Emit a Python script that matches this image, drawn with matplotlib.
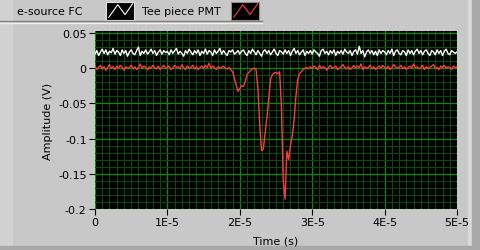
import numpy as np
import matplotlib
matplotlib.use("Agg")
import matplotlib.pyplot as plt
from matplotlib.ticker import MultipleLocator, FixedLocator
from matplotlib.patches import Rectangle

# sample times, 0 .. 50 us in 0.25 us steps
t_start, t_stop, n_pts = 0.0, 5e-5, 201

# e-source FC trace (mV)
fc_mv = [
    20, 25, 18, 23, 27, 21, 26, 19, 24, 22, 28, 20, 25, 23, 18, 26, 21, 25, 17, 23,
    26, 21, 19, 25, 30, 18, 24, 21, 26, 20, 23, 27, 21, 25, 18, 23, 26, 20, 25, 22,
    24, 19, 26, 21, 25, 28, 20, 24, 21, 17, 25, 21, 27, 23, 19, 25, 21, 26, 18, 24,
    21, 27, 20, 25, 23, 18, 26, 21, 24, 28, 20, 25, 21, 18, 25, 23, 26, 20, 22, 25,
    20, 24, 26, 21, 18, 25, 21, 27, 23, 19, 25, 21, 17, 24, 26, 21, 25, 19, 23, 27,
    21, 18, 25, 23, 20, 26, 21, 25, 18, 24, 28, 21, 25, 19, 23, 26, 18, 24, 21, 25,
    20, 26, 23, 21, 17, 25, 27, 21, 24, 19, 25, 21, 26, 18, 24, 21, 25, 20, 27, 23,
    21, 25, 18, 24, 26, 20, 31, 21, 25, 16, 23, 26, 21, 25, 19, 24, 18, 26, 21, 25,
    23, 19, 25, 21, 27, 18, 24, 26, 21, 19, 25, 23, 18, 26, 21, 25, 19, 24, 27, 21,
    25, 19, 24, 26, 21, 18, 25, 23, 19, 26, 21, 25, 18, 24, 27, 21, 19, 25, 23, 21,
    23,
]

# Tee piece PMT trace (mV)
pmt_mv = [
    3, -2, 1, 4, -1, 2, -3, 1, 5, 0, 2, -2, 3, 0, 4, 1, -3, 2, 0, 1,
    4, -1, 2, -2, 1, 6, 0, 3, 1, -2, 2, 0, 4, 1, -1, 3, -2, 1, 4, 0,
    1, 3, -2, 0, 4, 1, 2, -1, 5, 1, -2, 3, 0, 1, 4, -1, 2, -2, 1, 3,
    0, 4, 1, 7, 0, 3, 1, -2, 2, 0, 1, 3, 0, -1, 1, -2, -5, -14, -24, -33,
    -29, -25, -26, -19, -9, -6, -3, -1, 0, -2, -28, -80, -117, -115, -93, -70, -42, -16, -9, -7,
    -6, -8, -5, -55, -160, -186, -118, -130, -110, -96, -74, -40, -16, -8, -5, -2, 0, 1, -1, 2,
    0, 3, 1, -2, 4, 0, 2, 1, -3, 1, 4, 0, 1, 3, -2, 0, 2, 5, 1, -1,
    2, -2, 1, 4, 0, 3, 1, 6, -2, 2, 0, 1, 4, -1, 2, -2, 1, 3, 0, 4,
    1, -1, 3, -2, 1, 5, 2, 0, 1, 4, -1, 2, -2, 1, 3, 0, 6, 1, 2, -1,
    1, 4, -2, 2, 0, 1, 3, 5, 0, 1, -2, 3, 1, 4, 0, 2, 1, -2, 3, 1,
    2,
]

x_ticks = [0, 1e-5, 2e-5, 3e-5, 4e-5, 5e-5]
x_labels = ["0", "1E-5", "2E-5", "3E-5", "4E-5", "5E-5"]
y_ticks = [-0.2, -0.15, -0.1, -0.05, 0, 0.05]
y_labels = ["-0.2", "-0.15", "-0.1", "-0.05", "0", "0.05"]
series_names = ["e-source FC", "Tee piece PMT"]

t = np.linspace(t_start, t_stop, n_pts)
fc = np.array(fc_mv) / 1000.0
pmt = np.array(pmt_mv) / 1000.0

W, H = 481, 251
bg = "#c8c8c8"
fig = plt.figure(figsize=(W / 100, H / 100), dpi=100, facecolor=bg)

# panel bevels
for x0, y0, w, h, col in [(0, 0, 12, H, "#d2d2d2"), (468, 0, 4, H, "#dadada"),
                          (472, 0, 9, H, "#a8a8a8"), (0, 0, W, 4, "#a8a8a8")]:
    fig.patches.append(Rectangle((x0 / W, y0 / H), w / W, h / H, transform=fig.transFigure,
                                 color=col, zorder=-1))
fig.add_artist(plt.Line2D([0, 262 / W], [1 - 22 / H, 1 - 22 / H], transform=fig.transFigure, color="#808080", lw=1))
fig.add_artist(plt.Line2D([0, 262 / W], [1 - 23.5 / H, 1 - 23.5 / H], transform=fig.transFigure, color="#eeeeee", lw=1))

ax = fig.add_axes([95 / W, 1 - 210 / H, 362 / W, 178 / H])
ax.set_facecolor("black")
ax.plot(t, fc, color="white", lw=1.0, zorder=3)
ax.plot(t, pmt, color="#ff3b3b", lw=1.0, zorder=3)

ax.set_xlim(0, 5e-5)
ax.set_ylim(-0.2, 0.0528)
ax.xaxis.set_major_locator(FixedLocator(x_ticks))
ax.set_xticklabels(x_labels)
ax.yaxis.set_major_locator(FixedLocator(y_ticks))
ax.set_yticklabels(y_labels)
ax.xaxis.set_minor_locator(MultipleLocator(1e-6))
ax.yaxis.set_minor_locator(MultipleLocator(0.01))
ax.grid(which="minor", color="#0b4a0b", lw=0.8, zorder=1)
ax.grid(which="major", color="#0c8a0c", lw=0.9, zorder=2)
ax.tick_params(which="minor", length=0)
ax.tick_params(which="major", length=4, width=0.8, direction="out", labelsize=8, pad=2, colors="black")
for s in ax.spines.values():
    s.set_visible(False)

ax.set_xlabel("Time (s)", fontsize=8)
ax.set_ylabel("Amplitude (V)", fontsize=8)
ax.xaxis.set_label_coords(0.5, -0.15)
ax.yaxis.set_label_coords(-0.116, 0.5)

# legend strip at the top
fig.text(17 / W, 1 - 12 / H, series_names[0], fontsize=8, va="center", ha="left")
fig.text(142 / W, 1 - 12 / H, series_names[1], fontsize=8, va="center", ha="left")
for x0, c in [(106, "white"), (231, "#ff3b3b")]:
    lax = fig.add_axes([x0 / W, 1 - 21 / H, 28 / W, 18 / H])
    lax.set_facecolor("black")
    lax.plot([0.1, 0.42, 0.68, 0.95], [0.15, 0.85, 0.3, 0.9], color=c, lw=0.8)
    lax.set_xlim(0, 1)
    lax.set_ylim(0, 1)
    lax.set_xticks([])
    lax.set_yticks([])
    for s in lax.spines.values():
        s.set_color("#e0e0e0" if c == "white" else "#909090")
        s.set_linewidth(0.8)

fig.savefig("out.png", dpi=100, facecolor=bg)
